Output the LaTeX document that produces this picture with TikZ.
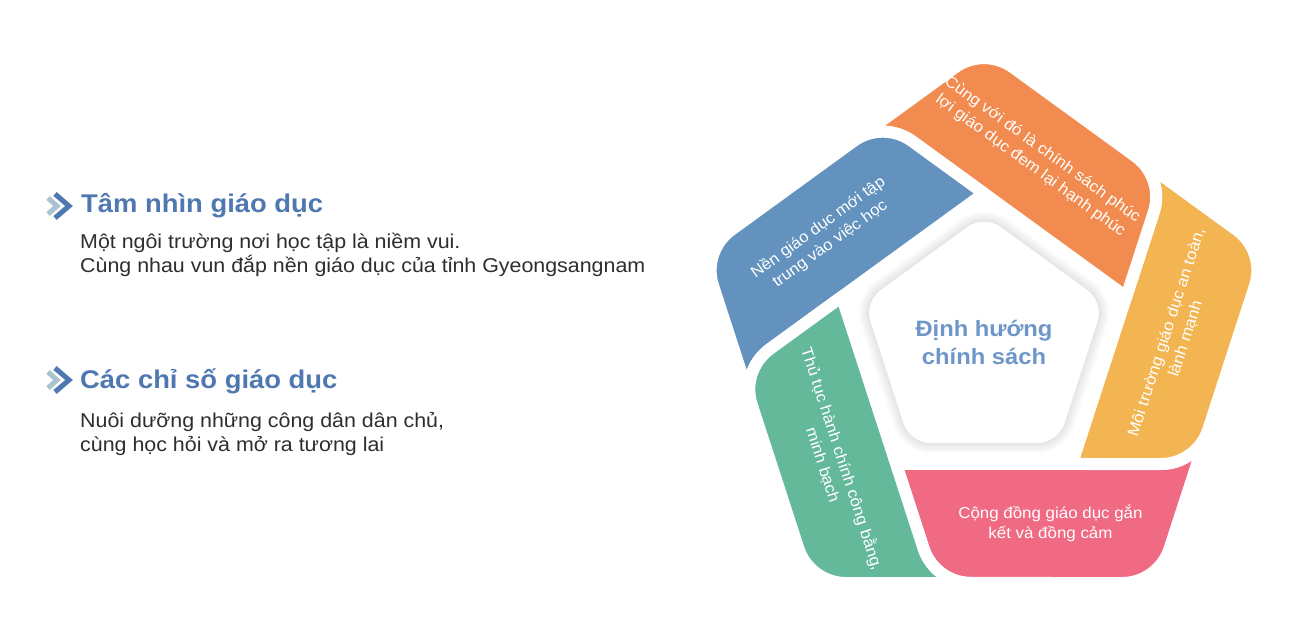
\documentclass[tikz,border=0pt]{standalone}
\usepackage{fontspec}
\setmainfont{Liberation Sans}[FakeStretch=1.07]
\usepackage{tikz}
\usetikzlibrary{positioning}
\definecolor{bandPink}{HTML}{EF6A82}
\definecolor{bandYellow}{HTML}{F3B452}
\definecolor{bandOrange}{HTML}{F28B4F}
\definecolor{bandBlue}{HTML}{6292BD}
\definecolor{bandGreen}{HTML}{63B999}
\definecolor{headBlue}{HTML}{5078B0}
\definecolor{hubBlue}{HTML}{6E96C8}
\definecolor{chevLight}{HTML}{AAC2D2}
\definecolor{bodyGrey}{HTML}{2E2E2E}

\begin{document}
\begin{tikzpicture}[x=1pt, y=1pt,
    heading/.style={anchor=base west, inner sep=0pt, text=headBlue,
                    font=\fontsize{25.6}{29}\selectfont\bfseries},
    body/.style={anchor=base west, inner sep=0pt, align=left, text=bodyGrey,
                 font=\fontsize{20}{24}\selectfont},
    chevron/.style={line width=5, line join=miter},
    bandtext/.style={text=white, align=center, inner sep=0pt,
                     font=\fontsize{15.8}{20}\selectfont},
    hubtext/.style={text=hubBlue, align=center, inner sep=0pt,
                    font=\fontsize{22.2}{28}\selectfont\bfseries}]
  \useasboundingbox[fill=white] (0,0) rectangle (1300,637);

  % left column
  \foreach \y in {431,257} {
    \draw[chevron, chevLight] (48,\y+8) -- (57,\y) -- (48,\y-8);
    \draw[chevron, headBlue] (55,\y+12) -- (69,\y) -- (55,\y-12);
  }
  \node[heading] (vision) at (81,424) {Tâm nhìn giáo dục};
  \node[body] (visionText) at (80,364) {Một ngôi trường nơi học tập là niềm vui.\\Cùng nhau vun đắp nền giáo dục của tỉnh Gyeongsangnam};
  \node[heading] (index) at (80,248) {Các chỉ số giáo dục};
  \node[body] (indexText) at (80,185) {Nuôi dưỡng những công dân dân chủ,\\cùng học hỏi và mở ra tương lai};

  % pinwheel
  \begin{scope}[shift={(984,294)}]
    \foreach \a/\c in {0/bandPink, 72/bandYellow, 144/bandOrange, 216/bandBlue, 288/bandGreen}
      \path[fill=\c, draw=white, line width=12, line join=round, rotate=\a]
        (-87.91,-121) -- (-60.48,-205.45) arc[start angle=-162, end angle=-90, radius=50]
        -- (138.04,-240) arc[start angle=-90, end angle=-18, radius=50]
        -- (224.27,-86.45) arc[start angle=-18, end angle=-90, radius=50] -- cycle;
    \foreach \a/\t/\name/\txt in {0/0/pinkText/{Cộng đồng giáo dục gắn\\kết và đồng cảm},
        72/72/yellowText/{Môi trường giáo dục an toàn,\\lành mạnh},
        144/-36/orangeText/{Cùng với đó là chính sách phúc\\lợi giáo dục đem lại hạnh phúc},
        216/36/blueText/{Nền giáo dục mới tập\\trung vào việc học},
        288/-72/greenText/{Thủ tục hành chính công bằng,\\minh bạch}}
      \node[bandtext, rotate=\t] (\name) at (\a-69.8:192.4) {\txt};
  \end{scope}

  % centre pentagon with soft shadow
  \begin{scope}[shift={(984,296)}]
    \foreach \w in {20,16,...,4}
      \draw[black, opacity=0.02, line width=\w, rounded corners=20, line join=round]
        (90:126) -- (162:126) -- (234:126) -- (306:126) -- (18:126) -- cycle;
    \fill[white, rounded corners=20]
      (90:126) -- (162:126) -- (234:126) -- (306:126) -- (18:126) -- cycle;
  \end{scope}
  \node[hubtext] (hub) at (984,295) {Định hướng\\chính sách};
\end{tikzpicture}
\end{document}
